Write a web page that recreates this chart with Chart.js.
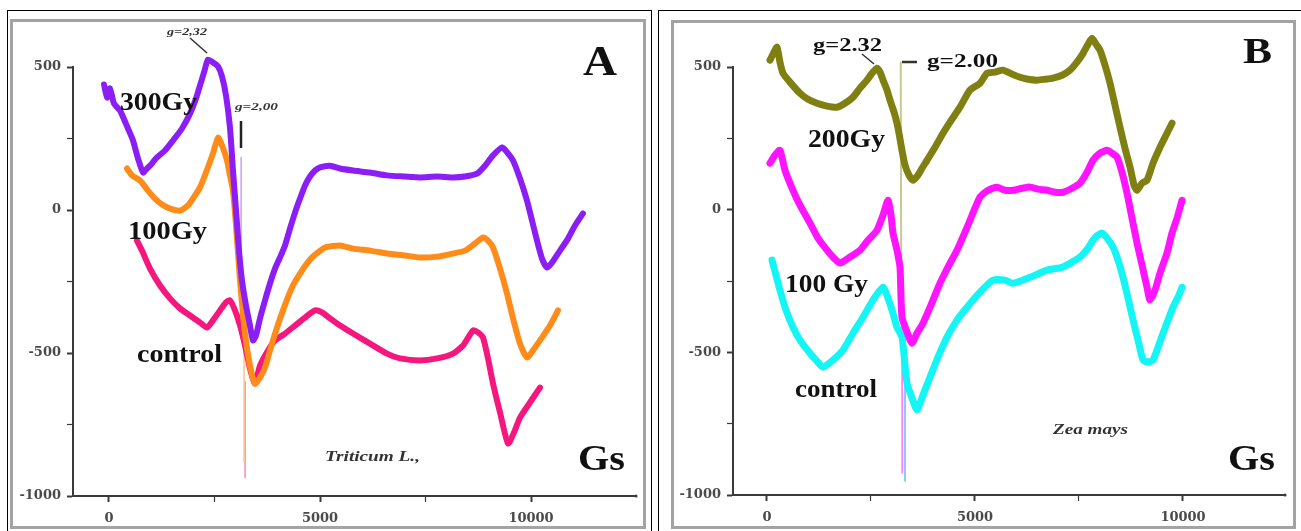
<!DOCTYPE html>
<html><head><meta charset="utf-8">
<script src="https://cdn.jsdelivr.net/npm/chart.js@4.4.1/dist/chart.umd.min.js"></script>
<style>
html,body{margin:0;padding:0;background:#fff;width:1301px;height:531px;overflow:hidden;}
#wrap{position:relative;width:1301px;height:531px;}
canvas{position:absolute;}
#cA{left:10px;top:18px;width:632px;height:513px;}
#cB{left:672px;top:20px;width:620px;height:511px;}
svg{position:absolute;left:0;top:0;}
</style></head><body><div id="wrap">
<canvas id="cA" width="632" height="513"></canvas>
<canvas id="cB" width="620" height="511"></canvas>
<svg width="1301" height="531" xmlns="http://www.w3.org/2000/svg">
  <rect x="7.5" y="10.5" width="644" height="560" fill="none" stroke="#000" stroke-width="1"/>
  <rect x="658.5" y="10.5" width="660" height="560" fill="none" stroke="#000" stroke-width="1"/>
  <rect x="11.5" y="20.5" width="633" height="507" fill="none" stroke="#a3a3a3" stroke-width="3"/>
  <rect x="672.5" y="21.5" width="622" height="506" fill="none" stroke="#a3a3a3" stroke-width="3"/>
  <line x1="190" y1="38" x2="207" y2="53" stroke="#333" stroke-width="1.5"/>
  <line x1="241" y1="121" x2="241" y2="148" stroke="#222" stroke-width="2.5"/>
  <line x1="862" y1="54" x2="874" y2="64" stroke="#333" stroke-width="1.5"/>
  <line x1="902" y1="62" x2="917" y2="62" stroke="#333" stroke-width="2.5"/>
  <circle cx="636" cy="496" r="1.6" fill="#3a3a3a"/>
  <circle cx="1285" cy="495" r="1.6" fill="#3a3a3a"/>
  <g font-family="Liberation Serif, 'Times New Roman', serif" font-weight="bold" fill="#111">
    <text x="120" y="110" font-size="26" textLength="77" lengthAdjust="spacingAndGlyphs">300Gy</text>
    <text x="128" y="239" font-size="26" textLength="79" lengthAdjust="spacingAndGlyphs">100Gy</text>
    <text x="137" y="362" font-size="26" textLength="85" lengthAdjust="spacingAndGlyphs">control</text>
    <text x="583" y="75" font-size="42" textLength="34" lengthAdjust="spacingAndGlyphs">A</text>
    <text x="578" y="470" font-size="36" textLength="47" lengthAdjust="spacingAndGlyphs">Gs</text>
    <text x="325" y="461" font-size="15" font-style="italic" fill="#333" textLength="95" lengthAdjust="spacingAndGlyphs">Triticum L.,</text>
    <text x="167" y="35" font-size="10" font-style="italic" fill="#333" textLength="40" lengthAdjust="spacingAndGlyphs">g=2,32</text>
    <text x="235" y="110" font-size="10" font-style="italic" fill="#333" textLength="43" lengthAdjust="spacingAndGlyphs">g=2,00</text>

    <text x="813" y="51" font-size="19" textLength="69" lengthAdjust="spacingAndGlyphs">g=2.32</text>
    <text x="927" y="67" font-size="19" textLength="71" lengthAdjust="spacingAndGlyphs">g=2.00</text>
    <text x="808" y="147" font-size="26" textLength="77" lengthAdjust="spacingAndGlyphs">200Gy</text>
    <text x="785" y="292" font-size="26" textLength="83" lengthAdjust="spacingAndGlyphs">100 Gy</text>
    <text x="795" y="397" font-size="26" textLength="82" lengthAdjust="spacingAndGlyphs">control</text>
    <text x="1243" y="63" font-size="36" textLength="29" lengthAdjust="spacingAndGlyphs">B</text>
    <text x="1228" y="470" font-size="36" textLength="47" lengthAdjust="spacingAndGlyphs">Gs</text>
    <text x="1053" y="434" font-size="14" font-style="italic" fill="#333" textLength="75" lengthAdjust="spacingAndGlyphs">Zea mays</text>
  </g>
</svg>
</div>
<script>
// ---- Panel A (Triticum L.) : magnetic field (Gs) vs EPR signal ----
const a300X = [-118,-47,24,118,261,450,569,687,806,900,1019,1137,1327,1517,1730,1919,2062,2156,2251,2346,2464,2583,2678,2773,2867,2938,3010,3081,3152,3246,3341,3412,3483,3578,3697,3815,3934,4052,4171,4289,4408,4526,4645,4763,4882,5000,5237,5474,5782,6185,6588,7014,7370,7773,8152,8436,8720,8910,9100,9313,9455,9574,9739,9905,10024,10142,10261,10379,10498,10687,10877,11043,11232];
const a300Y = [439,393,425,372,348,285,243,180,131,145,163,184,208,243,285,337,390,435,481,526,516,502,467,400,288,138,-2,-142,-247,-334,-404,-456,-439,-379,-316,-257,-205,-166,-124,-65,-9,40,86,117,138,149,155,145,138,131,121,117,114,117,114,117,127,155,191,219,198,173,110,33,-37,-107,-170,-201,-184,-142,-100,-54,-12];
const a100X = [427,545,735,924,1090,1256,1446,1682,1872,2038,2156,2299,2464,2583,2678,2796,2867,2938,3010,3105,3223,3341,3460,3578,3697,3815,3934,4123,4336,4573,4811,5119,5474,5782,6185,6588,7014,7370,7773,8152,8436,8673,8863,8981,9100,9266,9431,9574,9739,9905,10047,10213,10450,10640];
const a100Y = [145,121,103,68,40,19,5,-2,16,51,79,131,198,253,226,173,121,68,-54,-247,-432,-544,-607,-586,-551,-491,-432,-351,-271,-212,-166,-131,-124,-135,-142,-152,-159,-166,-163,-152,-142,-117,-96,-107,-131,-205,-292,-379,-467,-516,-491,-456,-404,-351];
const aCtlX = [664,782,972,1209,1446,1682,1919,2156,2322,2464,2630,2773,2867,2986,3105,3223,3341,3460,3578,3768,3934,4171,4408,4645,4882,5048,5237,5474,5782,6185,6588,6896,7370,7773,8152,8389,8626,8744,8863,8981,9100,9266,9455,9597,9739,9976,10213];
const aCtlY = [-107,-142,-205,-264,-309,-344,-369,-393,-411,-386,-351,-323,-316,-351,-404,-474,-554,-607,-544,-491,-456,-432,-404,-376,-351,-358,-379,-404,-432,-467,-502,-519,-526,-519,-502,-474,-421,-428,-446,-519,-607,-708,-816,-778,-726,-673,-621];
// narrow g=2.00 line
const a300SpikeX = [3130,3130], a300SpikeY = [184,-320];
const a100SpikeX = [3200,3200], a100SpikeY = [-300,-880];
const aCtlSpikeX = [3225,3225], aCtlSpikeY = [-600,-935];

// ---- Panel B (Zea mays) ----
const b200X = [72,168,240,312,385,553,793,986,1202,1442,1683,1875,2067,2236,2404,2524,2644,2717,2789,2885,2957,3053,3125,3173,3245,3318,3414,3510,3630,3726,3846,4039,4231,4399,4640,4880,5121,5289,5481,5673,5890,6082,6274,6491,6683,6875,7092,7284,7452,7597,7717,7813,7909,8005,8126,8246,8366,8486,8606,8727,8823,8895,9015,9135,9279,9448,9592,9736];
const b200Y = [524,552,569,517,478,447,408,387,373,363,359,373,394,426,454,478,496,482,454,419,384,342,303,268,208,156,121,103,121,145,173,219,268,307,359,419,443,478,482,489,475,464,457,454,457,461,471,489,517,548,580,601,580,559,506,443,366,289,215,149,86,68,93,103,163,219,261,303];
const b100X = [72,192,312,433,625,793,1034,1226,1442,1611,1755,1995,2236,2428,2644,2789,2909,2981,3029,3125,3197,3245,3366,3486,3606,3750,3919,4159,4351,4568,4832,5121,5313,5529,5722,5914,6130,6323,6515,6731,6924,7116,7332,7525,7693,7837,8005,8174,8294,8414,8534,8654,8775,8895,9015,9135,9207,9328,9448,9616,9736,9856,9977];
const b100Y = [163,191,208,138,68,16,-47,-100,-142,-170,-187,-166,-142,-107,-72,-19,33,-19,-82,-142,-201,-377,-429,-468,-433,-398,-342,-258,-201,-142,-54,44,68,79,68,68,75,79,72,68,61,61,75,93,131,173,198,208,198,184,131,58,-30,-117,-194,-272,-317,-282,-222,-152,-82,-30,33];
const bCtlX = [120,216,312,457,625,793,1034,1202,1346,1587,1827,2067,2308,2548,2789,2909,3029,3125,3245,3366,3486,3606,3750,3919,4111,4327,4568,4808,5121,5433,5722,5914,6323,6731,7116,7525,7717,7837,7957,8053,8174,8318,8438,8558,8679,8799,8919,9039,9159,9279,9400,9520,9640,9760,9880,9977];
const bCtlY = [-177,-229,-282,-352,-412,-457,-503,-531,-552,-527,-492,-433,-377,-317,-272,-310,-363,-412,-447,-608,-660,-702,-650,-587,-517,-447,-387,-342,-289,-247,-247,-258,-237,-212,-201,-166,-135,-107,-89,-82,-100,-131,-177,-237,-310,-387,-457,-527,-534,-527,-482,-433,-387,-342,-307,-272];
const b200SpikeX = [3215,3228], b200SpikeY = [517,-352];
const b100SpikeX = [3245,3250], b100SpikeY = [-201,-923];
const bCtlSpikeX = [3318,3318], bCtlSpikeY = [-447,-951];

// axis ticks
const xTicks = [0, 2500, 5000, 7500, 10000];
const xTickLabels = [0, 5000, 10000];
const yTicks = [-1000, -750, -500, -250, 0, 250, 500];
const yTickLabels = [500, 0, -500, -1000];

function pts(xs, ys){ const n=Math.min(xs.length, ys.length); const o=[]; for(let i=0;i<n;i++) o.push({x:xs[i], y:ys[i]}); return o; }

function line(data, color, width, tension){
  return {data, borderColor:color, borderWidth:width, pointRadius:0, tension:tension, clip:false,
          borderJoinStyle:'round', borderCapStyle:'round', fill:false};
}

const tickFont = {family:'DejaVu Serif', weight:'bold', size:13};
function scales(xmin, xmax, yW, xH){
  return {
    x:{type:'linear', min:xmin, max:xmax,
       afterBuildTicks:s=>{ s.ticks = xTicks.map(v=>({value:v})); },
       afterFit:s=>{s.height=xH;},
       border:{display:true, color:'#3a3a3a', width:2},
       grid:{display:true, drawOnChartArea:false, drawTicks:true, tickLength:6, tickColor:'#3a3a3a',
             tickWidth:c=> (c.tick && xTickLabels.includes(c.tick.value)) ? 2 : 1.2},
       ticks:{autoSkip:false, maxRotation:0, minRotation:0, padding:9,
              color:'#4a4a4a', font:tickFont,
              callback:v=> xTickLabels.includes(v) ? String(v) : ''}},
    y:{type:'linear', min:-1000, max:500,
       afterBuildTicks:s=>{ s.ticks = yTicks.map(v=>({value:v})); },
       afterFit:s=>{s.width=yW;},
       border:{display:true, color:'#3a3a3a', width:2},
       grid:{display:true, drawOnChartArea:false, drawTicks:true, tickLength:6, tickColor:'#3a3a3a',
             tickWidth:c=> (c.tick && yTickLabels.includes(c.tick.value)) ? 2 : 1.2},
       ticks:{autoSkip:false, padding:6, color:'#4a4a4a', font:tickFont,
              callback:v=> yTickLabels.includes(v) ? String(v) : ''}}
  };
}

function make(id, datasets, sc, pad){
  return new Chart(document.getElementById(id), {
    type:'line',
    data:{datasets},
    options:{responsive:false, animation:false, devicePixelRatio:1,
      layout:{padding:pad},
      plugins:{legend:{display:false}, tooltip:{enabled:false}},
      scales:sc}
  });
}

make('cA', [
  line(pts(a300X,a300Y), '#8b1df5', 6, 0.2),
  line(pts(a100X,a100Y), '#ff8c1a', 6, 0.2),
  line(pts(aCtlX,aCtlY), '#f5167e', 6, 0.2),
  line(pts(a300SpikeX,a300SpikeY), '#c8a0ff', 1.5, 0),
  line(pts(a100SpikeX,a100SpikeY), '#ffc488', 1.5, 0),
  line(pts(aCtlSpikeX,aCtlSpikeY), '#ff88bf', 1.5, 0)
], scales(-853, 12488, 63, 35), {left:0, top:49, right:6, bottom:0});

make('cB', [
  line(pts(b200X,b200Y), '#808012', 7, 0.2),
  line(pts(b100X,b100Y), '#ff14ff', 7, 0.2),
  line(pts(bCtlX,bCtlY), '#14f5f5', 7, 0.2),
  line(pts(b200SpikeX,b200SpikeY), '#c8c890', 2, 0),
  line(pts(b100SpikeX,b100SpikeY), '#ff70ff', 1.5, 0),
  line(pts(bCtlSpikeX,bCtlSpikeY), '#66b8ff', 1.5, 0)
], scales(-817, 12452, 61, 36), {left:0, top:47, right:7, bottom:0});
</script>
</body></html>
